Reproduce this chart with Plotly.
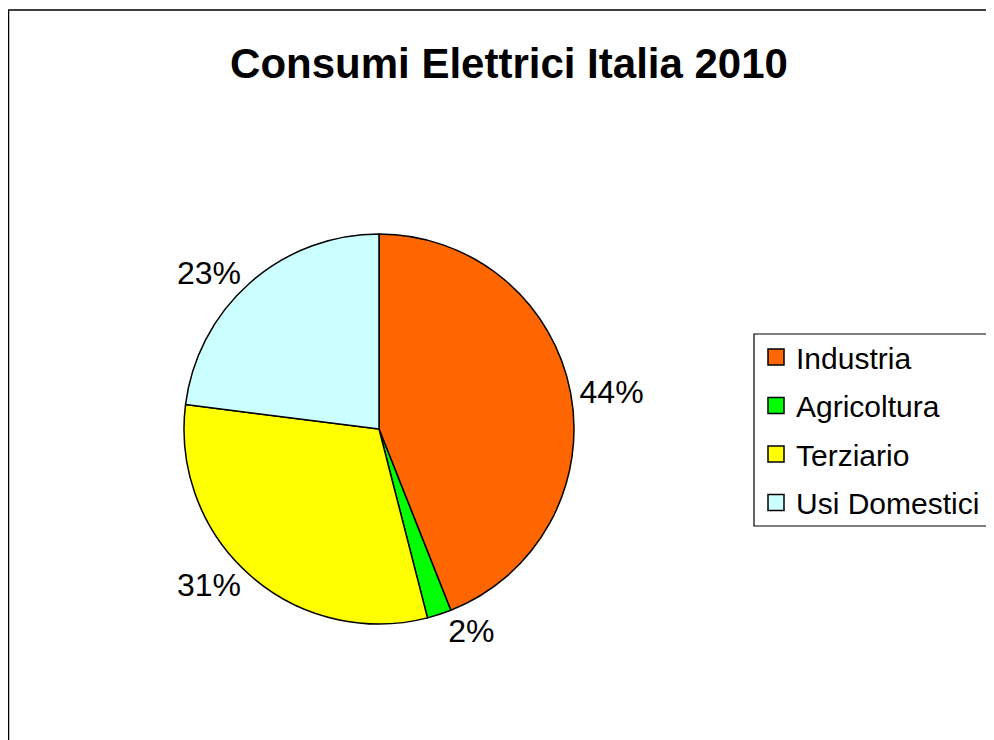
import plotly.graph_objects as go

categories = ["Industria", "Agricoltura", "Terziario", "Usi Domestici"]
values = [44, 2, 31, 23]
colors = ["#FF6600", "#00FF00", "#FFFF00", "#CCFFFF"]
title_text = "Consumi Elettrici Italia 2010"

# page has an 8px body margin, so the figure fills the rest of the viewport
W, H = 986, 732
FONT = "Liberation Sans, Arial, sans-serif"

fig = go.Figure()

fig.add_trace(go.Pie(
    labels=categories,
    values=values,
    sort=False,
    direction="clockwise",
    rotation=0,
    marker=dict(colors=colors, line=dict(color="black", width=1.5)),
    textinfo="percent",
    texttemplate="%{percent:.0%}",
    textposition="outside",
    outsidetextfont=dict(family=FONT, size=32, color="black"),
    showlegend=False,
    automargin=False,
    domain=dict(x=[176 / W, 566 / W], y=[(H - 616) / H, (H - 226) / H]),
    hoverinfo="label+percent",
))

# Legend entries built from the same categories / colours
for cat, col in zip(categories, colors):
    fig.add_trace(go.Scatter(
        x=[None], y=[None], mode="markers", name=cat,
        legendgroup=cat,
        marker=dict(symbol="square", size=16, color=col,
                    line=dict(color="black", width=1.5)),
        hoverinfo="skip",
    ))

fx0, fy1 = 0.5 / W, (H - 2) / H
lx0, ly0, ly1 = 746 / W, (H - 518) / H, (H - 326) / H

fig.update_layout(
    width=W, height=H,
    margin=dict(l=0, r=0, t=0, b=0),
    paper_bgcolor="white",
    plot_bgcolor="white",
    font=dict(family=FONT, color="black"),
    title=dict(text="<b>" + title_text + "</b>", x=501 / W, xanchor="center",
               y=(H - 55) / H, yanchor="middle",
               font=dict(family=FONT, size=42, color="black")),
    xaxis=dict(visible=False), yaxis=dict(visible=False),
    legend=dict(
        x=748 / W, xanchor="left", y=(H - 323) / H, yanchor="top",
        font=dict(family=FONT, size=30, color="black"),
        traceorder="grouped", tracegroupgap=6.5,
        itemsizing="trace",
        bgcolor="rgba(0,0,0,0)", borderwidth=0,
    ),
    shapes=[
        dict(type="path", xref="paper", yref="paper",
             path=f"M {fx0},-0.05 L {fx0},{fy1} L 1.05,{fy1}",
             line=dict(color="black", width=1.5), layer="below"),
        dict(type="path", xref="paper", yref="paper",
             path=f"M 1.05,{ly1} L {lx0},{ly1} L {lx0},{ly0} L 1.05,{ly0}",
             line=dict(color="black", width=1.2), layer="below"),
    ],
)

fig.write_html("out.html")
